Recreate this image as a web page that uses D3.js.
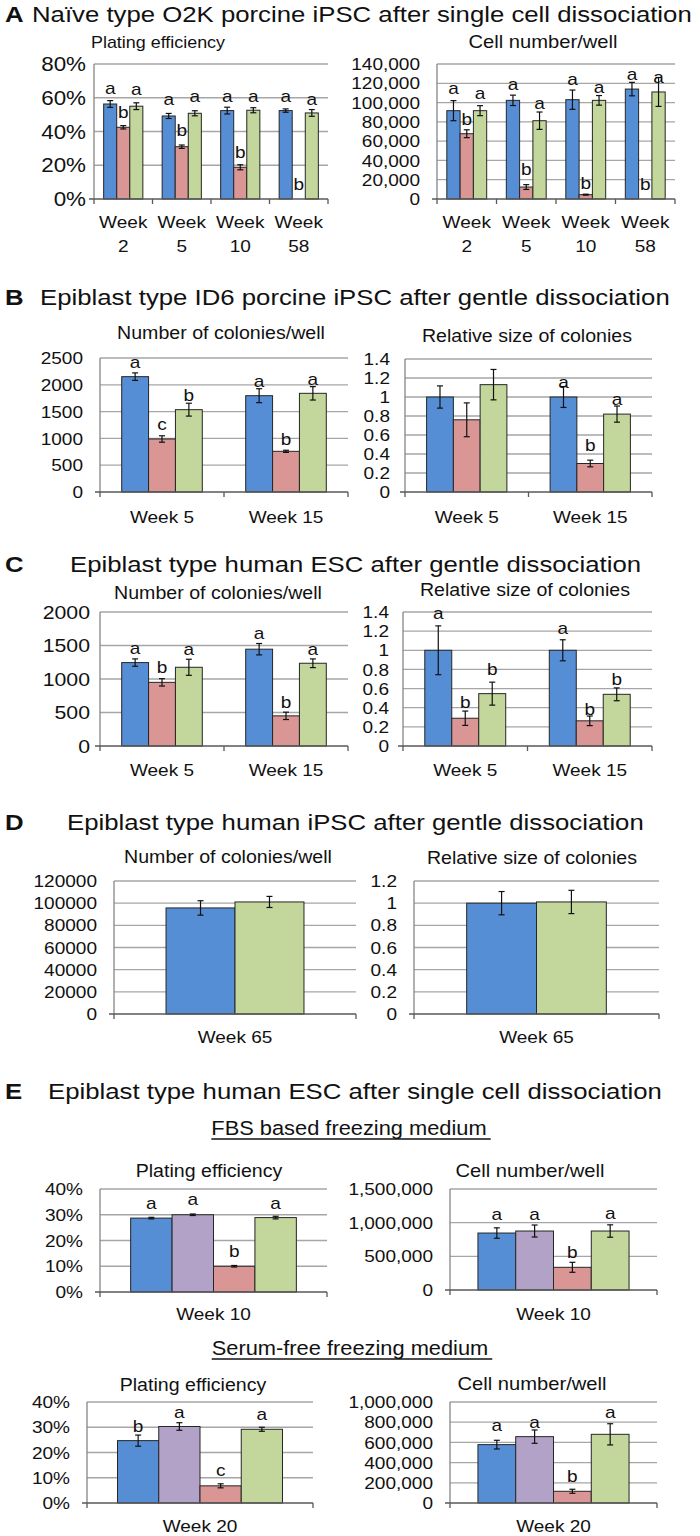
<!DOCTYPE html>
<html><head><meta charset="utf-8">
<script src="https://cdn.jsdelivr.net/npm/d3@7"></script>
<style>
body{margin:0;background:#fff}
text{font-family:"Liberation Sans",Arial,sans-serif;fill:#111}
</style>
</head><body>
<svg id="c" width="700" height="1536"></svg>
<script>
// ---------------- DATA ----------------
const weeksA = ["Week 2", "Week 5", "Week 10", "Week 58"];
const weeksBC = ["Week 5", "Week 15"];
const weeksD = ["Week 65"];
const weeksE1 = ["Week 10"];
const weeksE2 = ["Week 20"];

// Panel A – plating efficiency (%)
const aPlateBlue = [56.3, 49.2, 52.4, 52.4];
const aPlateBlueErr = [2.0, 1.5, 2.0, 1.0];
const aPlateRed = [42.5, 31.0, 18.8, 0];
const aPlateRedErr = [1.0, 1.0, 1.5, 0];
const aPlateGreen = [55.0, 50.8, 52.6, 51.0];
const aPlateGreenErr = [2.0, 1.5, 1.5, 2.0];
const aPlateLetters = [["a","a","a","a"], ["b","b","b","b"], ["a","a","a","a"]];
const aPlateLetterY = [[62.3, 56.0, 57.3, 57.3], [48.0, 37.5, 24.3, 5.5], [61.5, 57.3, 57.3, 56.0]];

// Panel A – cell number/well
const aCellBlue = [91600, 102300, 103000, 114000];
const aCellBlueErr = [10400, 5400, 10000, 7000];
const aCellRed = [67700, 12400, 4500, 0];
const aCellRedErr = [4100, 2500, 500, 0];
const aCellGreen = [91600, 81200, 102300, 111000];
const aCellGreenErr = [5200, 9000, 5000, 15000];
const aCellLetters = [["a","a","a","a"], ["b","b","b","b"], ["a","a","a","a"]];
const aCellLetterY = [[109000, 113000, 118500, 123000], [77000, 25000, 10400, 9700], [104000, 93000, 110000, 120000]];

// Panel B – number of colonies/well
const bColBlue = [2152, 1797];
const bColBlueErr = [70, 130];
const bColRed = [989, 759];
const bColRedErr = [60, 20];
const bColGreen = [1536, 1841];
const bColGreenErr = [120, 125];
const bColLetters = [["a","a"], ["c","b"], ["b","a"]];
const bColLetterY = [[2313, 1959], [1163, 883], [1692, 2002]];

// Panel B – relative size of colonies
const bSizeBlue = [1.0, 1.0];
const bSizeBlueErr = [0.117, 0.11];
const bSizeRed = [0.76, 0.30];
const bSizeRedErr = [0.178, 0.035];
const bSizeGreen = [1.13, 0.82];
const bSizeGreenErr = [0.16, 0.085];
const bSizeLetters = [["","a"], ["","b"], ["","a"]];
const bSizeLetterY = [[0, 1.094], [0, 0.432], [0, 0.913]];

// Panel C – number of colonies/well
const cColBlue = [1245, 1445];
const cColBlueErr = [55, 85];
const cColRed = [950, 450];
const cColRedErr = [55, 55];
const cColGreen = [1175, 1235];
const cColGreenErr = [120, 65];
const cColLetters = [["a","a"], ["b","b"], ["a","a"]];
const cColLetterY = [[1380, 1590], [1090, 565], [1365, 1365]];

// Panel C – relative size of colonies
const cSizeBlue = [1.0, 1.0];
const cSizeBlueErr = [0.255, 0.11];
const cSizeRed = [0.29, 0.263];
const cSizeRedErr = [0.075, 0.05];
const cSizeGreen = [0.547, 0.54];
const cSizeGreenErr = [0.12, 0.067];
const cSizeLetters = [["a","a"], ["b","b"], ["b","b"]];
const cSizeLetterY = [[1.326, 1.168], [0.396, 0.326], [0.737, 0.642]];

// Panel D
const dColBlue = [95700];
const dColBlueErr = [6500];
const dColGreen = [101100];
const dColGreenErr = [5000];
const dSizeBlue = [1.0];
const dSizeBlueErr = [0.105];
const dSizeGreen = [1.011];
const dSizeGreenErr = [0.105];

// Panel E – order: blue, purple, red, green
const eFbsPlate = [28.7, 30.0, 10.0, 28.9];
const eFbsPlateErr = [0.3, 0.3, 0.3, 0.5];
const eFbsPlateLetters = ["a", "a", "b", "a"];
const eFbsPlateLetterY = [32.2, 33.6, 13.7, 32.2];

const eFbsCell = [846000, 876000, 337000, 876000];
const eFbsCellErr = [77000, 89000, 74000, 92000];
const eFbsCellLetters = ["a", "a", "b", "a"];
const eFbsCellLetterY = [1045000, 1045000, 475000, 1054000];

const eSfPlate = [24.7, 30.3, 6.8, 29.2];
const eSfPlateErr = [2.2, 1.5, 0.8, 0.8];
const eSfPlateLetters = ["b", "a", "c", "a"];
const eSfPlateLetterY = [28.3, 33.8, 10.5, 32.9];

const eSfCell = [578000, 657000, 116000, 680000];
const eSfCellErr = [43000, 66000, 20000, 105000];
const eSfCellLetters = ["a", "a", "b", "a"];
const eSfCellLetterY = [710000, 743000, 205000, 842000];

// ---------------- STYLE ----------------
const BLUE = "#558ED5", RED = "#D99694", GREEN = "#C3D69B", PURPLE = "#B3A2C7";
const SX = 1.12;
const svg = d3.select("#c");

function txt(parent, x, y, s, size, anchor = "middle", weight = "normal") {
  return parent.append("text")
    .attr("transform", `translate(${x},${y}) scale(${SX},1)`)
    .attr("text-anchor", anchor)
    .attr("font-size", size)
    .attr("font-weight", weight)
    .text(s);
}

const fmtPct = d => Math.round(d) + "%";
const fmtComma = d => d3.format(",")(Math.round(d));
const fmtPlain = d => String(Math.round(d));
const fmtDec = d => String(+d.toFixed(1));

function barChart(o) {
  const g = svg.append("g");
  const x = d3.scaleBand().domain(o.cats).range([o.x0, o.x1]);
  const y = d3.scaleLinear().domain([0, o.max]).range([o.yBot, o.yTop]);
  const ticks = d3.range(0, o.max + o.step * 0.5, o.step);

  g.selectAll(null).data(ticks.filter(t => t > 0)).join("line")
    .attr("x1", o.x0).attr("x2", o.x1)
    .attr("y1", d => y(d)).attr("y2", d => y(d))
    .attr("stroke", "#a6a6a6").attr("stroke-width", 1.3);

  g.append("line").attr("x1", o.x0).attr("x2", o.x0)
    .attr("y1", o.yTop).attr("y2", o.yBot)
    .attr("stroke", "#868686").attr("stroke-width", 1.3);

  const ts = o.tickSize || 17;
  ticks.forEach(t => txt(g, o.x0 - (o.gap ?? 17), y(t) + ts * 0.36, o.fmt(t), ts, "end"));

  const n = o.series.length;
  const inner = d3.scaleBand().domain(d3.range(n)).range([0, x.bandwidth() * o.frac]);
  const off = x.bandwidth() * (1 - o.frac) / 2;

  o.series.forEach((s, si) => {
    const data = o.cats.map((c, ci) => ({
      c, v: s.values[ci], e: s.errs[ci],
      l: s.letters ? s.letters[ci] : "", ly: s.letterY ? s.letterY[ci] : 0
    }));
    const cx = d => x(d.c) + off + inner(si) + inner.bandwidth() / 2;
    g.selectAll(null).data(data.filter(d => d.v > 0)).join("rect")
      .attr("x", d => x(d.c) + off + inner(si))
      .attr("width", inner.bandwidth())
      .attr("y", d => y(d.v))
      .attr("height", d => o.yBot - y(d.v))
      .attr("fill", s.color).attr("stroke", "#262626").attr("stroke-width", 1);
    const eb = data.filter(d => d.e > 0);
    g.selectAll(null).data(eb).join("line")
      .attr("x1", cx).attr("x2", cx)
      .attr("y1", d => y(d.v - d.e)).attr("y2", d => y(d.v + d.e))
      .attr("stroke", "#111").attr("stroke-width", 1.2);
    [-1, 1].forEach(sg => {
      g.selectAll(null).data(eb).join("line")
        .attr("x1", d => cx(d) - 3).attr("x2", d => cx(d) + 3)
        .attr("y1", d => y(d.v + sg * d.e)).attr("y2", d => y(d.v + sg * d.e))
        .attr("stroke", "#111").attr("stroke-width", 1.2);
    });
    data.filter(d => d.l).forEach(d => txt(g, cx(d), y(d.ly), d.l, o.letterSize || 17));
  });

  // x axis
  g.append("line").attr("x1", o.x0 - 5).attr("x2", o.x1)
    .attr("y1", o.yBot).attr("y2", o.yBot)
    .attr("stroke", "#595959").attr("stroke-width", 1.3);
  const bounds = o.cats.map(c => x(c)).concat([o.x1]);
  g.selectAll(null).data(bounds).join("line")
    .attr("x1", d => d).attr("x2", d => d)
    .attr("y1", o.yBot).attr("y2", o.yBot + 5)
    .attr("stroke", "#595959").attr("stroke-width", 1.3);

  o.cats.forEach(c => {
    const cx = x(c) + x.bandwidth() / 2;
    if (o.twoLine) {
      const parts = c.split(" ");
      txt(g, cx, o.weekY, parts[0], 17);
      txt(g, cx, o.weekY + 24, parts[1], 17);
    } else {
      txt(g, cx, o.weekY, c, 17);
    }
  });

  txt(g, o.subX, o.subY, o.sub, o.subSize || 17.5);
}

function ser(values, errs, color, letters, letterY) {
  return { values, errs, color, letters, letterY };
}
function single(arr, i) { return [arr[i]]; }
function eSeries(vals, errs, letters, letterY) {
  const cols = [BLUE, PURPLE, RED, GREEN];
  return cols.map((c, i) => ser([vals[i]], [errs[i]], c, letters ? [letters[i]] : null, letterY ? [letterY[i]] : null));
}

function panelTitle(letter, lx, tx, y, text) {
  txt(svg, lx, y, letter, 23, "start", "bold");
  txt(svg, tx, y, text, 23, "start");
}

// ---------------- PANEL A ----------------
panelTitle("A", 5, 32, 22, "Naïve type O2K porcine iPSC after single cell dissociation");
barChart({
  x0: 94, x1: 328, yTop: 64, yBot: 199, max: 80, step: 20, fmt: fmtPct, tickSize: 20, gap: 8,
  cats: weeksA, frac: 0.67, twoLine: true, weekY: 228,
  sub: "Plating efficiency", subX: 158, subY: 48, subSize: 16,
  series: [
    ser(aPlateBlue, aPlateBlueErr, BLUE, aPlateLetters[0], aPlateLetterY[0]),
    ser(aPlateRed, aPlateRedErr, RED, aPlateLetters[1], aPlateLetterY[1]),
    ser(aPlateGreen, aPlateGreenErr, GREEN, aPlateLetters[2], aPlateLetterY[2])
  ]
});
barChart({
  x0: 437, x1: 675, yTop: 64, yBot: 199, max: 140000, step: 20000, fmt: fmtComma,
  cats: weeksA, frac: 0.67, twoLine: true, weekY: 228,
  sub: "Cell number/well", subX: 543, subY: 48, subSize: 18,
  series: [
    ser(aCellBlue, aCellBlueErr, BLUE, aCellLetters[0], aCellLetterY[0]),
    ser(aCellRed, aCellRedErr, RED, aCellLetters[1], aCellLetterY[1]),
    ser(aCellGreen, aCellGreenErr, GREEN, aCellLetters[2], aCellLetterY[2])
  ]
});

// ---------------- PANEL B ----------------
panelTitle("B", 5, 40, 305, "Epiblast type ID6 porcine iPSC after gentle dissociation");
barChart({
  x0: 100, x1: 348, yTop: 358, yBot: 492, max: 2500, step: 500, fmt: fmtPlain,
  cats: weeksBC, frac: 0.65, weekY: 523,
  sub: "Number of colonies/well", subX: 221, subY: 339,
  series: [
    ser(bColBlue, bColBlueErr, BLUE, bColLetters[0], bColLetterY[0]),
    ser(bColRed, bColRedErr, RED, bColLetters[1], bColLetterY[1]),
    ser(bColGreen, bColGreenErr, GREEN, bColLetters[2], bColLetterY[2])
  ]
});
barChart({
  x0: 405, x1: 652, yTop: 359, yBot: 492, max: 1.4, step: 0.2, fmt: fmtDec, gap: 15,
  cats: weeksBC, frac: 0.65, weekY: 523,
  sub: "Relative size of colonies", subX: 527, subY: 342,
  series: [
    ser(bSizeBlue, bSizeBlueErr, BLUE, bSizeLetters[0], bSizeLetterY[0]),
    ser(bSizeRed, bSizeRedErr, RED, bSizeLetters[1], bSizeLetterY[1]),
    ser(bSizeGreen, bSizeGreenErr, GREEN, bSizeLetters[2], bSizeLetterY[2])
  ]
});

// ---------------- PANEL C ----------------
panelTitle("C", 5, 70, 572, "Epiblast type human ESC after gentle dissociation");
barChart({
  x0: 100, x1: 348, yTop: 612, yBot: 746, max: 2000, step: 500, fmt: fmtPlain, tickSize: 19, gap: 10,
  cats: weeksBC, frac: 0.65, weekY: 776,
  sub: "Number of colonies/well", subX: 218, subY: 599,
  series: [
    ser(cColBlue, cColBlueErr, BLUE, cColLetters[0], cColLetterY[0]),
    ser(cColRed, cColRedErr, RED, cColLetters[1], cColLetterY[1]),
    ser(cColGreen, cColGreenErr, GREEN, cColLetters[2], cColLetterY[2])
  ]
});
barChart({
  x0: 403, x1: 652, yTop: 612, yBot: 746, max: 1.4, step: 0.2, fmt: fmtDec, gap: 14,
  cats: weeksBC, frac: 0.65, weekY: 776,
  sub: "Relative size of colonies", subX: 525, subY: 596,
  series: [
    ser(cSizeBlue, cSizeBlueErr, BLUE, cSizeLetters[0], cSizeLetterY[0]),
    ser(cSizeRed, cSizeRedErr, RED, cSizeLetters[1], cSizeLetterY[1]),
    ser(cSizeGreen, cSizeGreenErr, GREEN, cSizeLetters[2], cSizeLetterY[2])
  ]
});

// ---------------- PANEL D ----------------
panelTitle("D", 5, 67, 830, "Epiblast type human iPSC after gentle dissociation");
barChart({
  x0: 114, x1: 356, yTop: 881, yBot: 1014, max: 120000, step: 20000, fmt: fmtPlain,
  cats: weeksD, frac: 0.57, weekY: 1043,
  sub: "Number of colonies/well", subX: 228, subY: 863,
  series: [ser(dColBlue, dColBlueErr, BLUE), ser(dColGreen, dColGreenErr, GREEN)]
});
barChart({
  x0: 414, x1: 659, yTop: 881, yBot: 1014, max: 1.2, step: 0.2, fmt: fmtDec,
  cats: weeksD, frac: 0.57, weekY: 1043,
  sub: "Relative size of colonies", subX: 532, subY: 864,
  series: [ser(dSizeBlue, dSizeBlueErr, BLUE), ser(dSizeGreen, dSizeGreenErr, GREEN)]
});

// ---------------- PANEL E ----------------
panelTitle("E", 5, 48, 1099, "Epiblast type human ESC after single cell dissociation");

function underlined(x, y, s, size) {
  const t = txt(svg, x, y, s, size, "middle");
  const w = t.node().getComputedTextLength() * SX;
  svg.append("line").attr("x1", x - w / 2).attr("x2", x + w / 2 + 4)
    .attr("y1", y + 4).attr("y2", y + 4).attr("stroke", "#111").attr("stroke-width", 1.4);
}
underlined(349, 1135, "FBS based freezing medium", 19.5);
underlined(350, 1355, "Serum-free freezing medium", 19.5);

barChart({
  x0: 100, x1: 327, yTop: 1189, yBot: 1292, max: 40, step: 10, fmt: fmtPct,
  cats: weeksE1, frac: 0.73, weekY: 1320,
  sub: "Plating efficiency", subX: 209, subY: 1177,
  series: eSeries(eFbsPlate, eFbsPlateErr, eFbsPlateLetters, eFbsPlateLetterY)
});
barChart({
  x0: 450, x1: 657, yTop: 1189, yBot: 1290, max: 1500000, step: 500000, fmt: fmtComma,
  cats: weeksE1, frac: 0.73, weekY: 1320,
  sub: "Cell number/well", subX: 530, subY: 1177, subSize: 18,
  series: eSeries(eFbsCell, eFbsCellErr, eFbsCellLetters, eFbsCellLetterY)
});
barChart({
  x0: 87, x1: 313, yTop: 1402, yBot: 1503, max: 40, step: 10, fmt: fmtPct,
  cats: weeksE2, frac: 0.73, weekY: 1532,
  sub: "Plating efficiency", subX: 193, subY: 1391,
  series: eSeries(eSfPlate, eSfPlateErr, eSfPlateLetters, eSfPlateLetterY)
});
barChart({
  x0: 450, x1: 657, yTop: 1402, yBot: 1503, max: 1000000, step: 200000, fmt: fmtComma,
  cats: weeksE2, frac: 0.73, weekY: 1532,
  sub: "Cell number/well", subX: 532, subY: 1390, subSize: 18,
  series: eSeries(eSfCell, eSfCellErr, eSfCellLetters, eSfCellLetterY)
});
</script>
</body></html>
